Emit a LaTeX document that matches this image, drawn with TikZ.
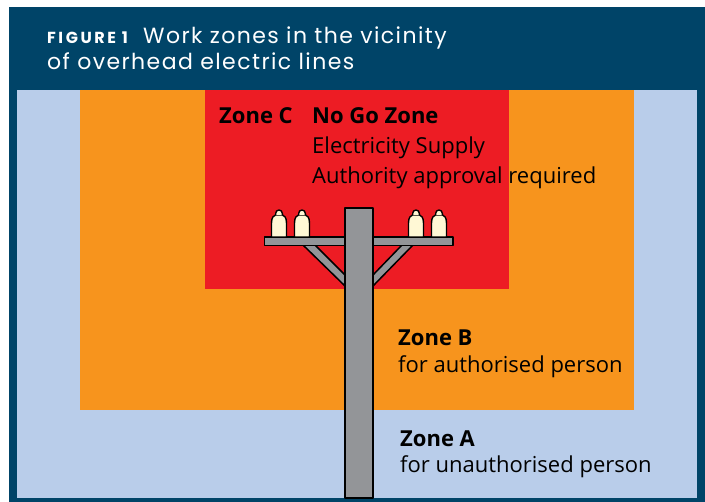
\documentclass[tikz,border=0pt]{standalone}
\usepackage{fontspec}
\setmainfont{Open Sans}
\newfontfamily\headfont[LetterSpace=6.5]{Poppins}
\newfontfamily\headfontfig[LetterSpace=16]{Poppins}
\definecolor{hdrblue}{HTML}{004468}
\definecolor{lightblue}{HTML}{B9CDEA}
\definecolor{zoneorange}{HTML}{F7941D}
\definecolor{zonered}{HTML}{ED1C24}
\definecolor{polegrey}{HTML}{939598}
\definecolor{cream}{HTML}{FFF8D5}
\tikzset{
  polepart/.style={fill=polegrey, draw=black, line width=1.5pt},
  insul/.style={fill=cream, draw=black, line width=1.4pt},
  headtxt/.style={anchor=base west, inner sep=0pt, text=white},
  zonetitle/.style={anchor=base west, inner sep=0pt, text=black, font=\bfseries\fontsize{22}{26}\selectfont},
  zonetxt/.style={anchor=base west, inner sep=0pt, text=black, font=\fontsize{22}{26}\selectfont}
}
\begin{document}
\begin{tikzpicture}[x=1pt,y=-1pt,line join=round]
\useasboundingbox (0,0) rectangle (705,502);
\fill[white] (0,0) rectangle (705,502);
\fill[hdrblue] (9,7) rectangle (705,502);
\fill[lightblue] (16.6,90) rectangle (697,498);
\fill[zoneorange] (80,90) rectangle (634,410);
\fill[zonered] (205,90) rectangle (509,289);
% braces
\filldraw[polepart] (303,245) -- (315,245) -- (345,275) -- (345,286) -- cycle;
\filldraw[polepart] (413,245) -- (402,245) -- (373,275) -- (373,286) -- cycle;
% crossarm
\filldraw[polepart] (264.5,237) rectangle (453,245.5);
% pole
\filldraw[polepart] (345,208) rectangle (373,498);
% insulators
\foreach \c in {279,302,416,439} {
  \filldraw[insul] (\c-7.5,237) -- (\c-7.5,223) .. controls (\c-7.5,217) and (\c-5,215.5) .. (\c-3.5,215) -- (\c+3.5,215) .. controls (\c+5,215.5) and (\c+7.5,217) .. (\c+7.5,223) -- (\c+7.5,237) -- cycle;
  \filldraw[insul] (\c-3.3,215) -- (\c-3.3,213.3) arc[start angle=180, end angle=360, radius=3.3] -- (\c+3.3,215);
}
% header
\node[headtxt, font=\headfontfig\bfseries\fontsize{16}{16}\selectfont] (figno) at (47,44) {FIGURE 1};
\node[headtxt, font=\headfont\fontsize{22}{26}\selectfont] (title1) at (143,44) {Work zones in the vicinity};
\node[headtxt, font=\headfont\fontsize{22}{26}\selectfont] (title2) at (47,70) {of overhead electric lines};
% zone C
\node[zonetitle] (zc) at (219,124) {Zone C};
\node[zonetitle] (zcname) at (312,124) {No Go Zone};
\node[zonetxt] (zc1) at (312,153.5) {Electricity Supply};
\node[zonetxt] (zc2) at (312,183.5) {Authority approval required};
% zone B
\node[zonetitle] (zb) at (398,346) {Zone B};
\node[zonetxt] (zb1) at (398,373) {for authorised person};
% zone A
\node[zonetitle] (za) at (400,447) {Zone A};
\node[zonetxt] (za1) at (400,473) {for unauthorised person};
\end{tikzpicture}
\end{document}
